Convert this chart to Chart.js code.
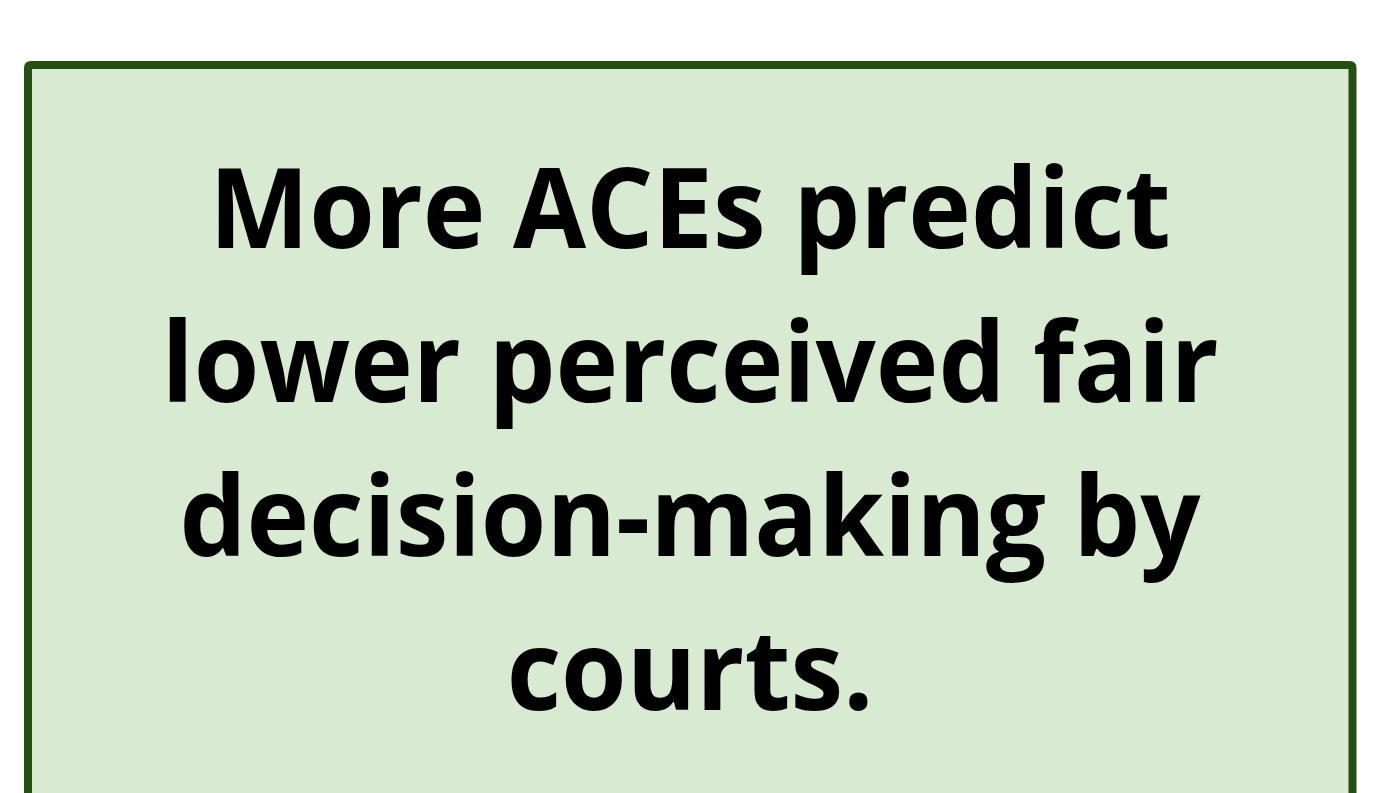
<!DOCTYPE html>
<html>
<head>
<meta charset="utf-8">
<script src="https://cdn.jsdelivr.net/npm/chart.js@4"></script>
<style>
  html, body { margin: 0; padding: 0; background: #ffffff; }
  #wrap { width: 1383px; height: 793px; position: relative; }
</style>
</head>
<body>
<div id="wrap"><canvas id="c" width="1383" height="793"></canvas></div>
<script>
// Text content of the slide box
const titleLines = ["More ACEs predict", "lower perceived fair", "decision-making by", "courts."];
// No numeric data in this slide
const categories = [];
const seriesValues = [];

const boxPlugin = {
  id: 'boxText',
  beforeDraw(chart) {
    const ctx = chart.ctx;
    ctx.save();
    ctx.fillStyle = '#ffffff';
    ctx.fillRect(0, 0, chart.width, chart.height);
    const x0 = 28, y0 = 65, x1 = 1352.5, y1 = 900, r = 3;
    ctx.beginPath();
    ctx.moveTo(x0 + r, y0);
    ctx.lineTo(x1 - r, y0);
    ctx.quadraticCurveTo(x1, y0, x1, y0 + r);
    ctx.lineTo(x1, y1);
    ctx.lineTo(x0, y1);
    ctx.lineTo(x0, y0 + r);
    ctx.quadraticCurveTo(x0, y0, x0 + r, y0);
    ctx.closePath();
    ctx.fillStyle = '#d9ead3';
    ctx.fill();
    ctx.lineWidth = 8;
    ctx.strokeStyle = '#274e13';
    ctx.stroke();
    ctx.restore();
  },
  afterDraw(chart) {
    const ctx = chart.ctx;
    ctx.save();
    ctx.font = 'bold 112px "Open Sans"';
    ctx.fillStyle = '#000000';
    ctx.textAlign = 'center';
    ctx.textBaseline = 'alphabetic';
    const ref = ctx.measureText(titleLines[1]).width;
    const sx = 1057 / ref;
    const cx = 690;
    titleLines.forEach((line, i) => {
      ctx.save();
      ctx.translate(cx, 248 + i * 154);
      ctx.scale(sx, 1);
      ctx.fillText(line, 0, 0);
      ctx.restore();
    });
    ctx.restore();
  }
};

document.fonts.load('bold 112px "Open Sans"').then(() => {
  new Chart(document.getElementById('c'), {
    type: 'bar',
    data: { labels: categories, datasets: [{ data: seriesValues }] },
    options: {
      responsive: false,
      animation: false,
      events: [],
      scales: { x: { display: false }, y: { display: false } },
      plugins: { legend: { display: false }, tooltip: { enabled: false }, title: { display: false } }
    },
    plugins: [boxPlugin]
  });
});
</script>
</body>
</html>
